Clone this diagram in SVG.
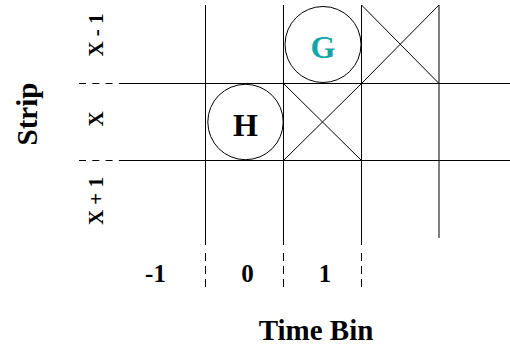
<svg xmlns="http://www.w3.org/2000/svg" width="510" height="346" viewBox="0 0 510 346">
<style>
.ln{stroke:#000;stroke-width:1;fill:none}
.dh{stroke:#000;stroke-width:1;fill:none;stroke-dasharray:7 6.3}
.dv{stroke:#000;stroke-width:1;fill:none;stroke-dasharray:8 5}
.t{font-family:"Liberation Serif","Times New Roman",serif;font-weight:bold;fill:#000}
</style>
<rect width="510" height="346" fill="#fff"/>
<g id="grid">
<line class="ln" x1="120" y1="83.5" x2="510" y2="83.5"/>
<line class="ln" x1="120" y1="160.5" x2="510" y2="160.5"/>
<line class="dh" x1="79" y1="83.5" x2="120" y2="83.5"/>
<line class="dh" x1="79" y1="160.5" x2="120" y2="160.5"/>
<line class="ln" x1="205.5" y1="5" x2="205.5" y2="245"/>
<line class="ln" x1="283.5" y1="5" x2="283.5" y2="245"/>
<line class="ln" x1="361.5" y1="5" x2="361.5" y2="245"/>
<line class="ln" x1="439" y1="5" x2="439" y2="238"/>
<line class="dv" x1="205.5" y1="253" x2="205.5" y2="287"/>
<line class="dv" x1="283.5" y1="253" x2="283.5" y2="287"/>
<line class="dv" x1="361.5" y1="253" x2="361.5" y2="287"/>
</g>
<g id="cross1">
<line class="ln" x1="361.5" y1="5" x2="439" y2="83.5"/>
<line class="ln" x1="361.5" y1="83.5" x2="439" y2="5"/>
</g>
<g id="cross2">
<line class="ln" x1="283.5" y1="83.5" x2="361.5" y2="160.5"/>
<line class="ln" x1="283.5" y1="160.5" x2="361.5" y2="83.5"/>
</g>
<g id="nodeG">
<circle class="ln" cx="323" cy="44.5" r="38"/>
<text class="t" x="323" y="57.5" font-size="32" text-anchor="middle" style="fill:#13a6a6">G</text>
</g>
<g id="nodeH">
<circle class="ln" cx="245.5" cy="122" r="37.7"/>
<text class="t" x="245.5" y="135.5" font-size="32" text-anchor="middle">H</text>
</g>
<g id="labels">
<text class="t" font-size="29" text-anchor="middle" transform="translate(36.5,114) rotate(-90)">Strip</text>
<text class="t" font-size="21" text-anchor="middle" transform="translate(102.5,35) rotate(-90)">X - 1</text>
<text class="t" font-size="21" text-anchor="middle" transform="translate(102.5,119) rotate(-90)">X</text>
<text class="t" font-size="21" text-anchor="middle" transform="translate(102.5,201) rotate(-90)">X + 1</text>
<text class="t" font-size="25" text-anchor="middle" x="155.5" y="281.7">-1</text>
<text class="t" font-size="25" text-anchor="middle" x="247.5" y="281.7">0</text>
<text class="t" font-size="25" text-anchor="middle" x="325" y="281.7">1</text>
<text class="t" font-size="29" text-anchor="middle" x="316" y="340">Time Bin</text>
</g>
</svg>
